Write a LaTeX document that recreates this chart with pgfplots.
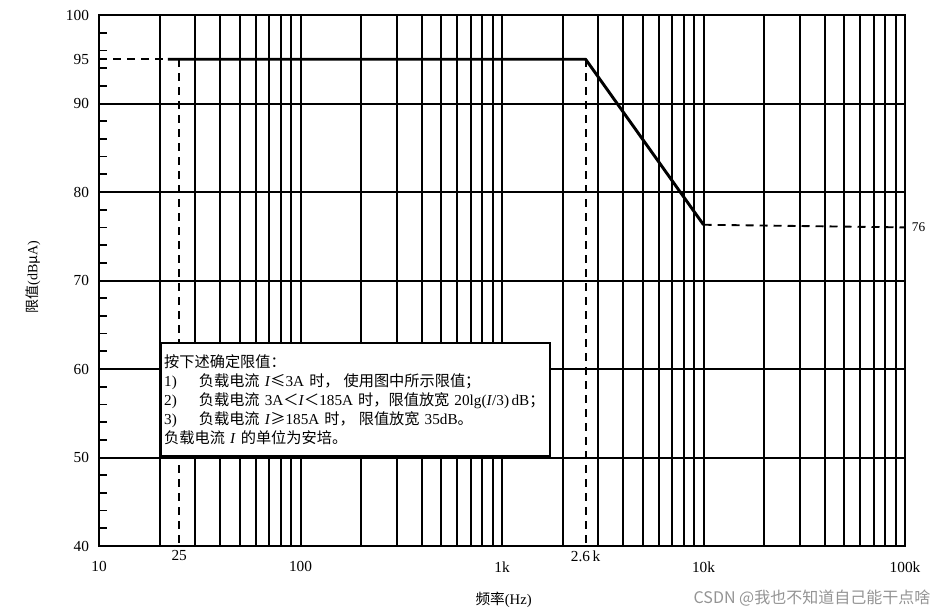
\documentclass[border=0pt]{standalone}
\usepackage{fontspec}
\setmainfont{Liberation Serif}
\newfontfamily\cjk{Noto Sans CJK SC}
\newcommand{\zh}[1]{{\cjk #1}}
\usepackage{pgfplots}
\pgfplotsset{compat=1.18}
\begin{document}
\begin{tikzpicture}
\begin{axis}[
  scale only axis,
  width=604.5pt, height=398.25pt,
  xmode=log, xmin=10, xmax=100000,
  ymin=40, ymax=100,
  axis line style={line width=1.5pt},
  xtick={10,100,1000,10000,100000},
  xticklabels={10,100,1k,10k,100k},
  minor xtick={20,30,40,50,60,70,80,90,100,200,300,400,500,600,700,800,900,1000,2000,3000,4000,5000,6000,7000,8000,9000,10000,20000,30000,40000,50000,60000,70000,80000,90000},
  xminorgrids=true, xmajorgrids=false,
  ytick={40,50,60,70,80,90,100},
  minor ytick={42,44,46,48,52,54,56,58,62,64,66,68,72,74,76,78,82,84,86,88,92,94,96,98},
  ymajorgrids=true, yminorgrids=false,
  extra x ticks={25,2600},
  extra x tick labels={25,2.6\,k},
  extra y ticks={95},
  extra y tick labels={95},
  extra tick style={grid=none, xticklabel style={yshift=8pt}},
  grid style={black, line width=1.5pt},
  minor grid style={black, line width=1.5pt},
  major grid style={black, line width=1.5pt},
  xtick style={draw=none},
  minor x tick style={draw=none},
  ytick pos=left,
  tick align=inside,
  major tick length=0pt,
  minor tick length=6pt,
  minor y tick style={black, line width=1.3pt},
  /pgf/number format/assume math mode=true,
  ticklabel style={font=\fontsize{11.5}{13}\selectfont},
  xticklabel style={yshift=-8pt},
  yticklabel style={xshift=-4pt},
  clip=false,
]
\addplot[black, line width=1.4pt, dash pattern=on 6pt off 4.5pt] coordinates {(10,95) (21,95)};
\addplot[black, line width=1.4pt, dash pattern=on 6pt off 4.5pt] coordinates {(25,95) (25,40)};
\addplot[black, line width=1.4pt, dash pattern=on 6pt off 4.5pt] coordinates {(2600,95) (2600,40)};
\addplot[black, line width=2.2pt, line join=round] coordinates {(22,95) (2600,95) (10000,76.3)};
\addplot[black, line width=1.4pt, dash pattern=on 6pt off 4.5pt] coordinates {(10000,76.3) (100000,76)};
\node[anchor=west, font=\fontsize{10}{12}\selectfont] at (axis cs:100000,76) {\,76};
\node[draw=black, line width=1.3pt, fill=white, anchor=north west, align=left,
      text width=287pt, inner xsep=2.5pt, inner ysep=4pt, minimum height=84.75pt,
      font=\fontsize{11.4}{14.3}\selectfont]
  at (rel axis cs:0.0757,0.384)
  {\mbox{\zh{按下述确定限值：}}\\
   \mbox{\makebox[26pt][l]{1)}\zh{负载电流 }\textit{I}\zh{≤}3A \zh{时，}\hspace{3pt}\zh{使用图中所示限值；}}\\
   \mbox{\makebox[26pt][l]{2)}\zh{负载电流 }3A\zh{＜}\textit{I}\zh{＜}185A \zh{时，限值放宽 }20lg(\textit{I}/3)\,dB\zh{；}}\\
   \mbox{\makebox[26pt][l]{3)}\zh{负载电流 }\textit{I}\zh{≥}185A \zh{时，}\hspace{3pt}\zh{限值放宽 }35dB\zh{。}}\\
   \mbox{\zh{负载电流 }\textit{I} \zh{的单位为安培。}}};
\node[rotate=90, font=\fontsize{10.5}{12}\selectfont] at ([xshift=-49.5pt]rel axis cs:0,0.507) {\zh{限值}(dB\zh{μ}A)};
\node[font=\fontsize{11}{13}\selectfont] at ([yshift=-40.5pt]rel axis cs:0.502,0) {\zh{频率}(Hz)};
\node[anchor=east, text=black!42, font=\cjk\fontsize{12}{14}\selectfont] at ([xshift=22.5pt,yshift=-39pt]rel axis cs:1,0) {CSDN @我也不知道自己能干点啥};
\end{axis}
\path (-74.25pt,-51.75pt) rectangle (636.75pt,409.5pt);
\end{tikzpicture}
\end{document}
